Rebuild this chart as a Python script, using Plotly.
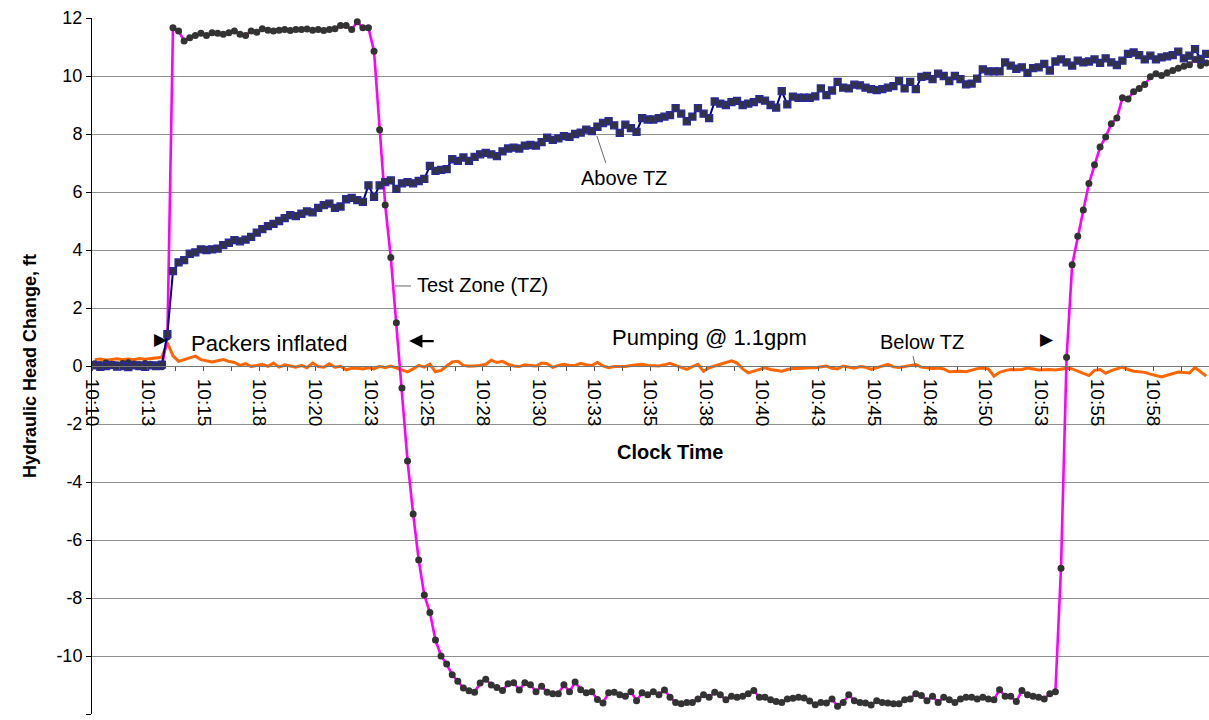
import plotly.graph_objects as go

# Sample clock: minutes after 10:10, one reading every 15 s
START_MIN = 0.125
STEP_MIN = 0.25

test_zone = [
    0.08, 0.05, 0.10, 0.06, 0.04, 0.09, 0.11, 0.07, 0.05, 0.09, 0.06, 0.04, -0.03,
    1.00,
    11.66, 11.55, 11.21, 11.32, 11.40, 11.47, 11.40, 11.49, 11.47, 11.44, 11.49, 11.55,
    11.44, 11.40, 11.55, 11.51, 11.63, 11.58, 11.55, 11.58, 11.60, 11.57, 11.60, 11.60,
    11.62, 11.58, 11.60, 11.57, 11.60, 11.63, 11.74, 11.74, 11.60, 11.87, 11.66, 11.66,
    10.85, 8.15, 5.55, 3.74, 1.49, -0.76, -3.28, -5.10, -6.69, -7.90, -8.50, -9.45,
    -10.00, -10.28, -10.65, -10.87, -11.10, -11.20, -11.25, -10.93, -10.80, -11.00, -11.09,
    -11.19, -10.96, -10.92, -11.17, -10.92, -10.99, -11.23, -11.04, -11.25, -11.30, -11.30,
    -10.99, -11.23, -10.90, -11.16, -11.27, -11.23, -11.50, -11.62, -11.27, -11.25, -11.34,
    -11.39, -11.23, -11.54, -11.27, -11.34, -11.23, -11.34, -11.17, -11.42, -11.60, -11.65,
    -11.60, -11.60, -11.48, -11.34, -11.42, -11.25, -11.34, -11.51, -11.39, -11.42, -11.39,
    -11.30, -11.19, -11.42, -11.42, -11.51, -11.57, -11.60, -11.48, -11.46, -11.42, -11.45,
    -11.55, -11.68,
    -11.60, -11.62, -11.48, -11.73, -11.60, -11.34, -11.54, -11.60, -11.62, -11.69, -11.54,
    -11.60, -11.62, -11.65, -11.65, -11.51, -11.48, -11.30, -11.36, -11.54, -11.39, -11.60,
    -11.42, -11.51, -11.60, -11.48, -11.42, -11.42, -11.48, -11.42, -11.48, -11.51, -11.16,
    -11.39, -11.39, -11.57, -11.19, -11.34, -11.39, -11.42, -11.48, -11.30, -11.23,
    -6.97, 0.30, 3.49, 4.47, 5.38, 6.29, 6.94, 7.55, 7.90, 8.35, 8.55, 9.25, 9.21, 9.46,
    9.57, 9.71, 9.97, 10.08, 10.02, 10.11, 10.19, 10.27, 10.34, 10.39, 10.57, 10.36, 10.45,
]

above_tz = [
    0.02, -0.03, 0.00, 0.03, -0.02, 0.00, -0.04, 0.02, 0.00, -0.03, 0.02, 0.00, 0.05,
    1.10, 3.27, 3.57, 3.65, 3.87, 3.92, 4.02, 4.00, 4.02, 4.05, 4.17, 4.25, 4.34, 4.30,
    4.36, 4.45, 4.60, 4.72, 4.82, 4.90, 5.00, 5.10, 5.20, 5.17, 5.25, 5.33, 5.30, 5.45,
    5.55, 5.60, 5.45, 5.50, 5.75, 5.80, 5.72, 5.66, 6.23, 5.83, 6.23, 6.34, 6.40, 6.11,
    6.30, 6.34, 6.30, 6.38, 6.45, 6.90, 6.73, 6.76, 6.79, 7.13, 7.07, 7.19, 7.07, 7.21,
    7.30, 7.35, 7.30, 7.24, 7.40, 7.50, 7.53, 7.50, 7.60, 7.62, 7.60, 7.72, 7.87, 7.80,
    7.85, 7.93, 7.90, 8.00, 8.05, 8.15, 8.10, 8.25, 8.38, 8.44, 8.30, 8.04, 8.32, 8.20,
    8.07, 8.55, 8.50, 8.50, 8.55, 8.60, 8.65, 8.89, 8.70, 8.44, 8.60, 8.89, 8.70, 8.55,
    9.12, 9.05, 9.00, 9.10, 9.14, 9.00, 9.05, 9.10, 9.20, 9.15, 9.00, 8.91, 9.48, 9.02,
    9.29, 9.25, 9.25, 9.25, 9.30, 9.57, 9.34, 9.50, 9.80, 9.60, 9.57, 9.70, 9.68, 9.60,
    9.55, 9.51, 9.55, 9.60, 9.65, 9.82, 9.57, 9.80, 9.55, 9.97, 10.00, 9.89, 10.08, 10.00,
    9.82, 10.00, 9.89, 9.71, 9.74, 9.91, 10.23, 10.16, 10.16, 10.16, 10.47, 10.36, 10.25,
    10.30, 10.11, 10.27, 10.30, 10.42, 10.19, 10.50, 10.57, 10.47, 10.36, 10.53, 10.47,
    10.50, 10.57, 10.45, 10.61, 10.47, 10.38, 10.53, 10.76, 10.81, 10.72, 10.57, 10.70,
    10.57, 10.64, 10.68, 10.72, 10.84, 10.61, 10.70, 10.93, 10.59, 10.76,
]

below_tz = [
    0.22, 0.24, 0.20, 0.22, 0.25, 0.22, 0.24, 0.22, 0.26, 0.23, 0.25, 0.26, 0.30,
    0.80, 0.35, 0.16, 0.22, 0.30, 0.34, 0.22, 0.18, 0.14, 0.18, 0.22, 0.16, 0.12, 0.02,
    0.08, -0.02, 0.02, 0.06, -0.01, 0.10, -0.04, 0.04, 0.00, -0.04, 0.02, -0.06, 0.10,
    -0.02, -0.04, 0.08, -0.04, -0.01, -0.13, -0.08, -0.08, -0.10, -0.06, -0.10, -0.01,
    -0.06, 0.00, -0.06, -0.12, -0.20, -0.10, 0.02, -0.04, 0.06, -0.20, -0.15, 0.00, 0.14,
    0.16, 0.02, -0.01, 0.00, 0.02, 0.06, 0.20, 0.12, 0.16, 0.06, 0.00, -0.02, 0.04, 0.02,
    0.00, 0.10, 0.08, -0.05, 0.02, 0.06, 0.02, 0.02, 0.09, 0.04, 0.02, 0.12, 0.00, -0.06,
    -0.02, -0.02, -0.02, 0.02, 0.04, 0.06, 0.02, 0.00, 0.00, 0.04, 0.09, 0.02, -0.04,
    -0.12, -0.02, 0.06, -0.18, -0.06, 0.00, 0.06, 0.10, 0.18, 0.10, -0.10, -0.24, -0.18,
    -0.10, -0.06, -0.12, -0.15, -0.18, -0.12, -0.09, -0.09, -0.07, -0.06, -0.06, -0.03,
    0.00, -0.08, -0.10, 0.00, -0.04, -0.08, -0.02, -0.04, -0.12, -0.06, 0.00, 0.06, -0.03,
    -0.05, -0.02, 0.02, 0.05, -0.04, -0.07, -0.09, -0.07, -0.10, -0.20, -0.19, -0.18,
    -0.20, -0.15, -0.09, -0.07, -0.10, -0.35, -0.22, -0.16, -0.12, -0.13, -0.12, -0.07,
    -0.10, -0.14, -0.13, -0.12, -0.14, -0.12, -0.08, -0.10, -0.17, -0.25, -0.33, -0.15,
    -0.12, -0.25, -0.16, -0.10, -0.04, -0.12, -0.18, -0.20, -0.22, -0.28, -0.32, -0.38,
    -0.32, -0.26, -0.21, -0.22, -0.24, -0.05, -0.20, -0.35,
]

tick_labels = ["10:10", "10:13", "10:15", "10:18", "10:20", "10:23", "10:25", "10:28",
               "10:30", "10:33", "10:35", "10:38", "10:40", "10:43", "10:45", "10:48",
               "10:50", "10:53", "10:55", "10:58"]
LABEL_STEP_MIN = 2.5
y_ticks = [-12, -10, -8, -6, -4, -2, 0, 2, 4, 6, 8, 10, 12]

times = [START_MIN + STEP_MIN * i for i in range(len(test_zone))]

FONT = "Arial, Liberation Sans, sans-serif"

fig = go.Figure()
fig.add_trace(go.Scatter(x=times, y=below_tz, mode="lines", name="Below TZ",
                         line=dict(color="#FF6600", width=3)))
fig.add_trace(go.Scatter(x=times, y=test_zone, mode="lines+markers", name="Test Zone (TZ)",
                         line=dict(color="#FF00FF", width=2.6),
                         marker=dict(symbol="circle", size=7, color="#333333")))
fig.add_trace(go.Scatter(x=times, y=above_tz, mode="lines+markers", name="Above TZ",
                         line=dict(color="#000080", width=2),
                         marker=dict(symbol="square", size=7, color="#333340",
                                     line=dict(color="#2a2a9a", width=1.3))))

tickvals, ticktext = [], []
for k in range(len(tick_labels)):
    tickvals.append(k * LABEL_STEP_MIN)
    ticktext.append(tick_labels[k])
    tickvals.append(k * LABEL_STEP_MIN + LABEL_STEP_MIN / 2)
    ticktext.append("")

fig.update_layout(
    width=1209, height=720,
    margin=dict(l=92, r=0, t=18, b=6),
    paper_bgcolor="white", plot_bgcolor="white",
    showlegend=False,
    font=dict(family=FONT, color="black"),
    xaxis=dict(range=[0, 50], anchor="free", position=0.5, automargin=False,
               tickmode="array", tickvals=tickvals, ticktext=ticktext,
               tickangle=90, tickfont=dict(size=19, family=FONT), ticklabelstandoff=4,
               showgrid=False, zeroline=False,
               showline=True, linecolor="#777777", linewidth=1,
               ticks="outside", ticklen=4, tickcolor="#555555"),
    yaxis=dict(range=[-12, 12], automargin=False,
               tickmode="array", tickvals=y_ticks, ticktext=[str(v) for v in y_ticks],
               tickfont=dict(size=18, family=FONT),
               showgrid=True, gridcolor="#8f8f8f", gridwidth=1,
               zeroline=False, showline=True, linecolor="black", linewidth=1,
               ticks="outside", ticklen=5, tickcolor="black"),
)

def ann(x, y, text, size, bold=False, **kw):
    fig.add_annotation(x=x, y=y, xref="x", yref="y", text=f"<b>{text}</b>" if bold else text,
                       showarrow=False, font=dict(size=size, family=FONT, color="black"), **kw)

ann(7.95, 0.79, "Packers inflated", 22)
ann(27.62, 1.0, "Pumping @ 1.1gpm", 22)
ann(37.15, 0.83, "Below TZ", 20)
ann(23.8, 6.48, "Above TZ", 20)
ann(17.5, 2.79, "Test Zone (TZ)", 20)
ann(3.1, 0.9, "▶", 17)
ann(42.75, 0.9, "▶", 17)
ann(25.87, -2.97, "Clock Time", 20, bold=True)

# left-pointing arrow
fig.add_annotation(x=14.2, y=0.86, ax=26, ay=0, xref="x", yref="y", text="",
                   showarrow=True, arrowhead=2, arrowsize=1.2, arrowwidth=2.2, arrowcolor="black")

# y-axis title
fig.add_annotation(x=-74 / 1117, y=0.5, xref="paper", yref="paper",
                   text="<b>Hydraulic Head Change, ft</b>", textangle=-90, showarrow=False,
                   font=dict(size=18, family=FONT, color="black"))

# leader lines
for (x0, y0, x1, y1) in [(22.6, 7.93, 23.0, 7.0), (13.56, 2.76, 14.28, 2.76), (36.75, 0.34, 36.88, -0.07)]:
    fig.add_shape(type="line", x0=x0, y0=y0, x1=x1, y1=y1, xref="x", yref="y",
                  line=dict(color="#666666", width=1))

fig.write_html("out.html", config={"displayModeBar": False},
               post_script="document.body.style.margin='0px';")
